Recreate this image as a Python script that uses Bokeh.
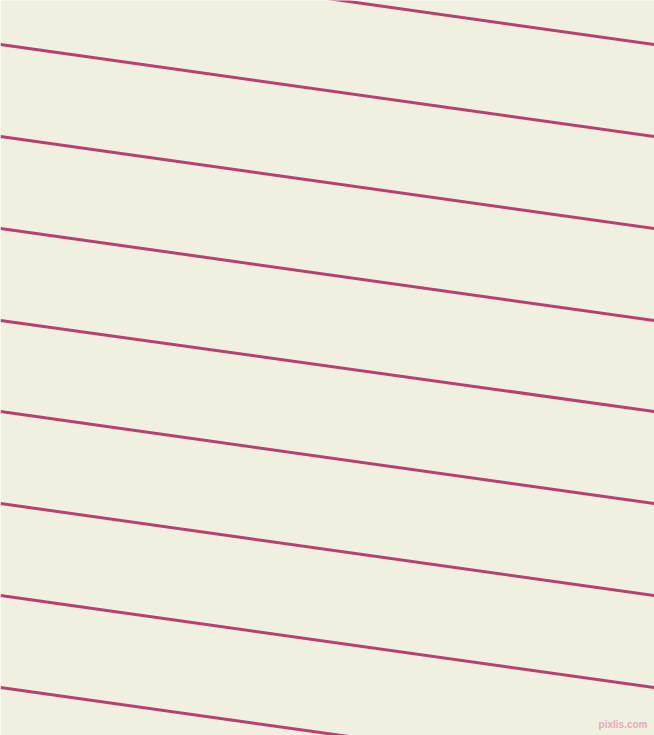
from bokeh.plotting import figure
from bokeh.models import Range1d
from bokeh.embed import file_html
from bokeh.resources import INLINE

# pattern lines: y where each line meets the left and right edge (image px)
left_y = [-48, 44, 136, 228, 320, 411, 503, 595, 687]
right_y = [44, 136, 228, 320, 411, 503, 595, 687, 779]
img_w = 654
img_h = 735

watermark = "pixlis.com"

p = figure(width=654, height=735, output_backend="svg", toolbar_location=None,
           tools="", x_range=Range1d(0, img_w), y_range=Range1d(img_h, 0),
           min_border=0, background_fill_color="#F0F0E1",
           border_fill_color="#F0F0E1")
p.axis.visible = False
p.grid.visible = False
p.outline_line_color = None

p.segment(x0=[0] * len(left_y), y0=left_y, x1=[img_w] * len(right_y), y1=right_y,
          line_color="#B8406E", line_width=3)

p.text(x=[647], y=[729], text=[watermark], text_align="right",
       text_baseline="bottom", text_font_size="10px", text_font_style="bold",
       text_color="#E2AABE")

open("out.html", "w").write(file_html(p, INLINE))
